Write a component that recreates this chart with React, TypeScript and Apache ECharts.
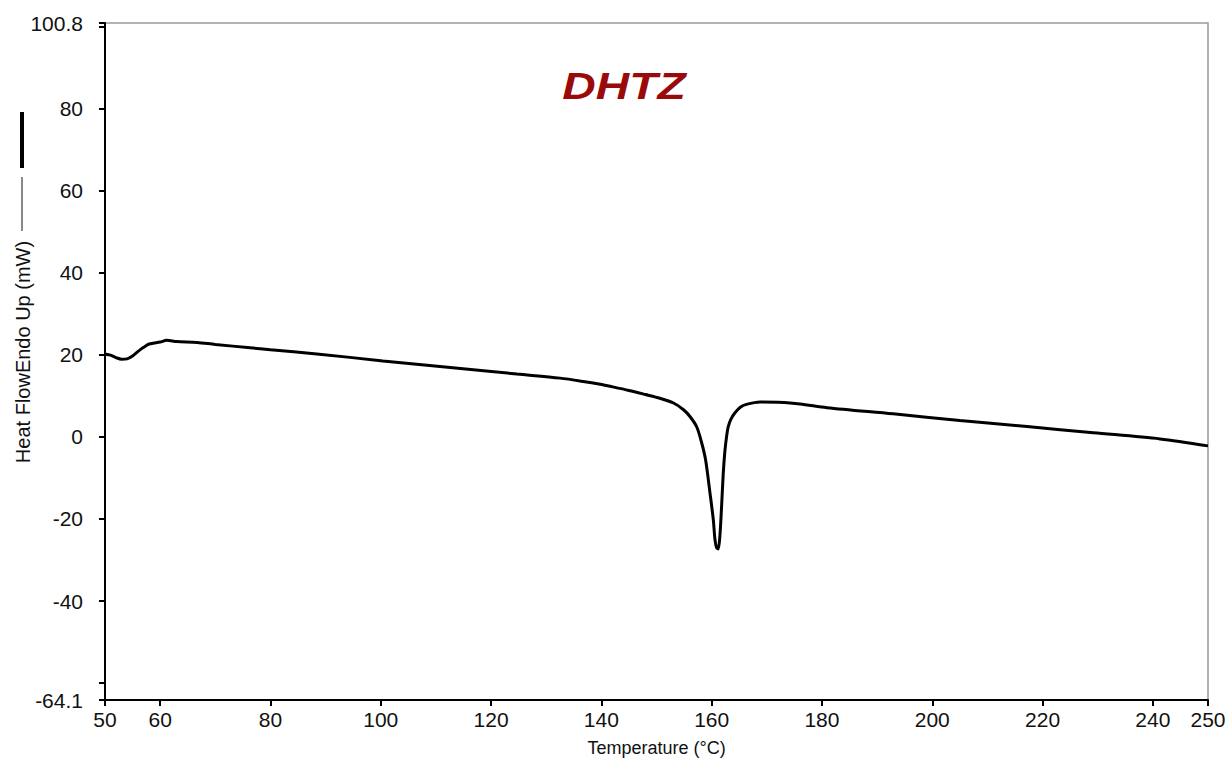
import React, { useEffect, useRef } from "react";
import * as echarts from "echarts";

const temperature = [
  50, 51, 52, 53, 54, 55, 56, 57, 58, 60, 61.2, 63, 66.7, 70, 76.3, 80, 88.4,
  100.4, 112.6, 124.7, 132.5, 136.7, 139.8, 141.6, 145, 148, 150.6, 153, 154.9,
  156.1, 157.3, 158.2, 158.9, 159.7, 160.3, 160.6, 160.9, 161.2, 161.5, 161.8,
  162.1, 162.4, 162.7, 163.0, 163.5, 164.2, 165.2, 166.3, 168.8, 172, 176,
  180.9, 192.9, 205, 217.2, 229.2, 241.3, 250,
];
const heatFlow = [
  20.2, 19.9, 19.3, 18.9, 19.0, 19.7, 20.8, 21.8, 22.6, 23.1, 23.5, 23.2, 23.0,
  22.5, 21.7, 21.2, 20.2, 18.5, 16.9, 15.3, 14.3, 13.5, 12.8, 12.3, 11.3, 10.3,
  9.4, 8.3, 6.6, 4.9, 2.4, -1.5, -5.6, -13.7, -20.2, -25, -27, -27.3, -24, -17,
  -9, -3.5, 0, 2.4, 4.3, 5.8, 7.2, 7.9, 8.5, 8.4, 8.0, 7.1, 5.6, 4.0, 2.5, 1.0,
  -0.5, -2.2,
];
const xLabelValues = [50, 60, 80, 100, 120, 140, 160, 180, 200, 220, 240, 250];
const yLabelValues = [-64.1, -40, -20, 0, 20, 40, 60, 80, 100.8];
const yTickValues = [-64.1, -60, -40, -20, 0, 20, 40, 60, 80, 100, 100.8];
const title = "DHTZ";
const xName = "Temperature (°C)";
const yName = "Heat FlowEndo Up (mW)";

const FONT = "Liberation Sans, Arial, sans-serif";

export default function App() {
  const ref = useRef<HTMLDivElement>(null);
  useEffect(() => {
    if (!ref.current) return;
    const chart = echarts.init(ref.current, undefined, { renderer: "svg" });
    const data = temperature.map((t, i) => [t, heatFlow[i]]);
    chart.setOption({
      animation: false,
      backgroundColor: "#ffffff",
      grid: {
        left: 105,
        right: 23,
        top: 23,
        bottom: 63,
        show: true,
        borderColor: "#9a9a9a",
        borderWidth: 1.5,
      },
      xAxis: {
        type: "value",
        min: 50,
        max: 250,
        name: xName,
        nameLocation: "middle",
        nameGap: 39,
        nameTextStyle: { fontFamily: FONT, fontSize: 18, color: "#111" },
        axisLine: {
          show: true,
          onZero: false,
          lineStyle: { color: "#000", width: 2 },
        },
        axisTick: {
          show: true,
          customValues: xLabelValues,
          length: 6,
          lineStyle: { color: "#000", width: 2 },
        },
        axisLabel: {
          customValues: xLabelValues,
          fontFamily: FONT,
          fontSize: 21,
          color: "#111",
          margin: 9,
        },
        splitLine: { show: false },
      },
      yAxis: {
        type: "value",
        min: -64.1,
        max: 100.8,
        axisLine: {
          show: true,
          onZero: false,
          lineStyle: { color: "#000", width: 2 },
        },
        axisTick: {
          show: true,
          customValues: yTickValues,
          length: 6,
          lineStyle: { color: "#000", width: 2 },
        },
        axisLabel: {
          customValues: yLabelValues,
          fontFamily: FONT,
          fontSize: 21,
          color: "#111",
          margin: 22,
          formatter: (v: number) => String(v),
        },
        splitLine: { show: false },
      },
      series: [
        {
          type: "line",
          data,
          showSymbol: false,
          smooth: 0.3,
          lineStyle: { color: "#000", width: 3 },
        },
      ],
      graphic: [
        {
          type: "text",
          x: 624,
          y: 86,
          scaleX: 1.25,
          style: {
            text: title,
            fontFamily: FONT,
            fontSize: 37,
            fontWeight: "bold",
            fontStyle: "italic",
            fill: "#9a0a0a",
            textAlign: "center",
            textVerticalAlign: "middle",
          },
        },
        {
          type: "text",
          x: 23,
          y: 352,
          rotation: Math.PI / 2,
          style: {
            text: yName,
            fontFamily: FONT,
            fontSize: 20,
            fill: "#111",
            textAlign: "center",
            textVerticalAlign: "middle",
          },
        },
        {
          type: "line",
          shape: { x1: 22, y1: 177, x2: 22, y2: 231 },
          style: { stroke: "#111", lineWidth: 1 },
        },
        {
          type: "rect",
          shape: { x: 20, y: 112, width: 4, height: 56 },
          style: { fill: "#000" },
        },
      ],
    });
    return () => chart.dispose();
  }, []);
  return (
    <div
      ref={ref}
      style={{ position: "fixed", left: 0, top: 0, width: 1231, height: 763 }}
    />
  );
}
